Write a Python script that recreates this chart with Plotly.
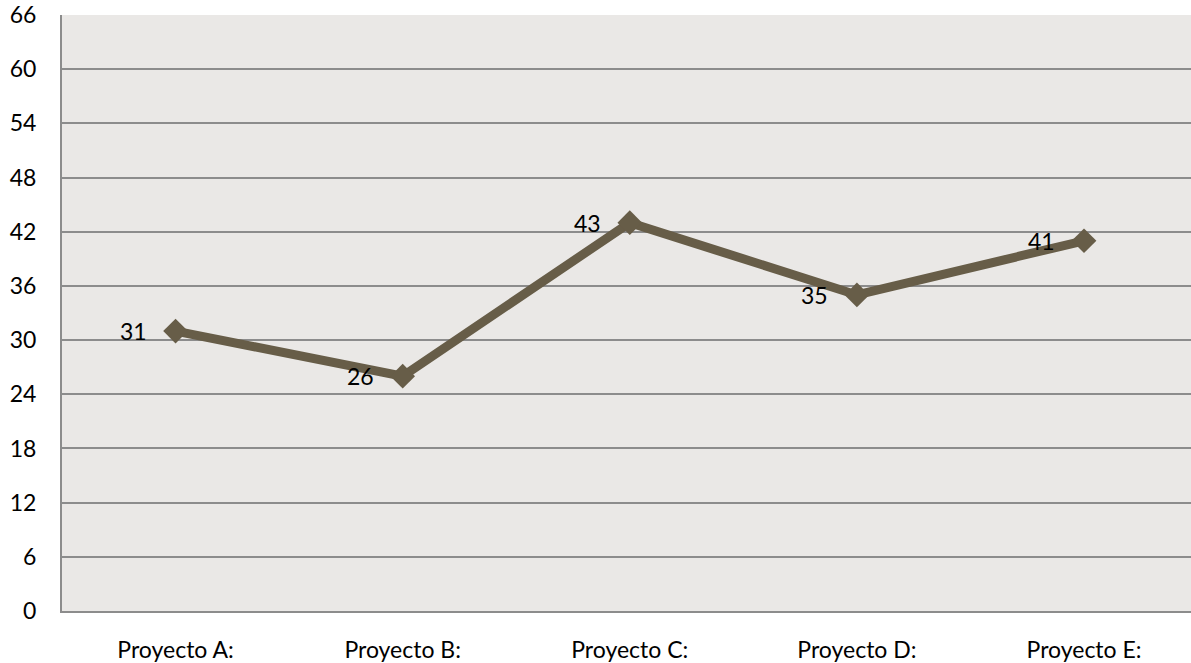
import plotly.graph_objects as go

categories = ["Proyecto A:", "Proyecto B:", "Proyecto C:", "Proyecto D:", "Proyecto E:"]
values = [31, 26, 43, 35, 41]
y_ticks = [0, 6, 12, 18, 24, 30, 36, 42, 48, 54, 60, 66]

line_color = "#675D48"
grid_color = "#8C8C8C"
font_family = "Lato, Open Sans, sans-serif"
fsize = 23

fig = go.Figure()
fig.add_trace(go.Scatter(
    x=categories, y=values,
    mode="lines+markers",
    line=dict(color=line_color, width=9),
    marker=dict(symbol="diamond", size=19, color=line_color),
    hoverinfo="skip",
))
for c, v in zip(categories, values):
    fig.add_annotation(
        x=c, y=v, text=str(v), showarrow=False,
        xanchor="right", yanchor="middle", xshift=-27, yshift=0,
        font=dict(family=font_family, size=fsize, color="#000000"),
    )

fig.update_layout(
    width=1191, height=663,
    margin=dict(l=62, r=0, t=15, b=49),
    paper_bgcolor="#FFFFFF",
    plot_bgcolor="#EAE8E6",
    showlegend=False,
    font=dict(family=font_family, size=fsize, color="#000000"),
)
fig.update_xaxes(
    type="category",
    range=[-0.5, 4.471],
    showgrid=False,
    showline=True, linecolor=grid_color, linewidth=2,
    ticks="", ticklabelstandoff=17,
    tickfont=dict(family=font_family, size=fsize, color="#000000"),
)
fig.update_yaxes(
    range=[0, 66],
    tickvals=y_ticks,
    showgrid=True, gridcolor=grid_color, gridwidth=2,
    showline=True, linecolor=grid_color, linewidth=2,
    zeroline=False,
    ticks="", ticklabelstandoff=19,
    tickfont=dict(family=font_family, size=fsize, color="#000000"),
)

fig.write_html("out.html")
